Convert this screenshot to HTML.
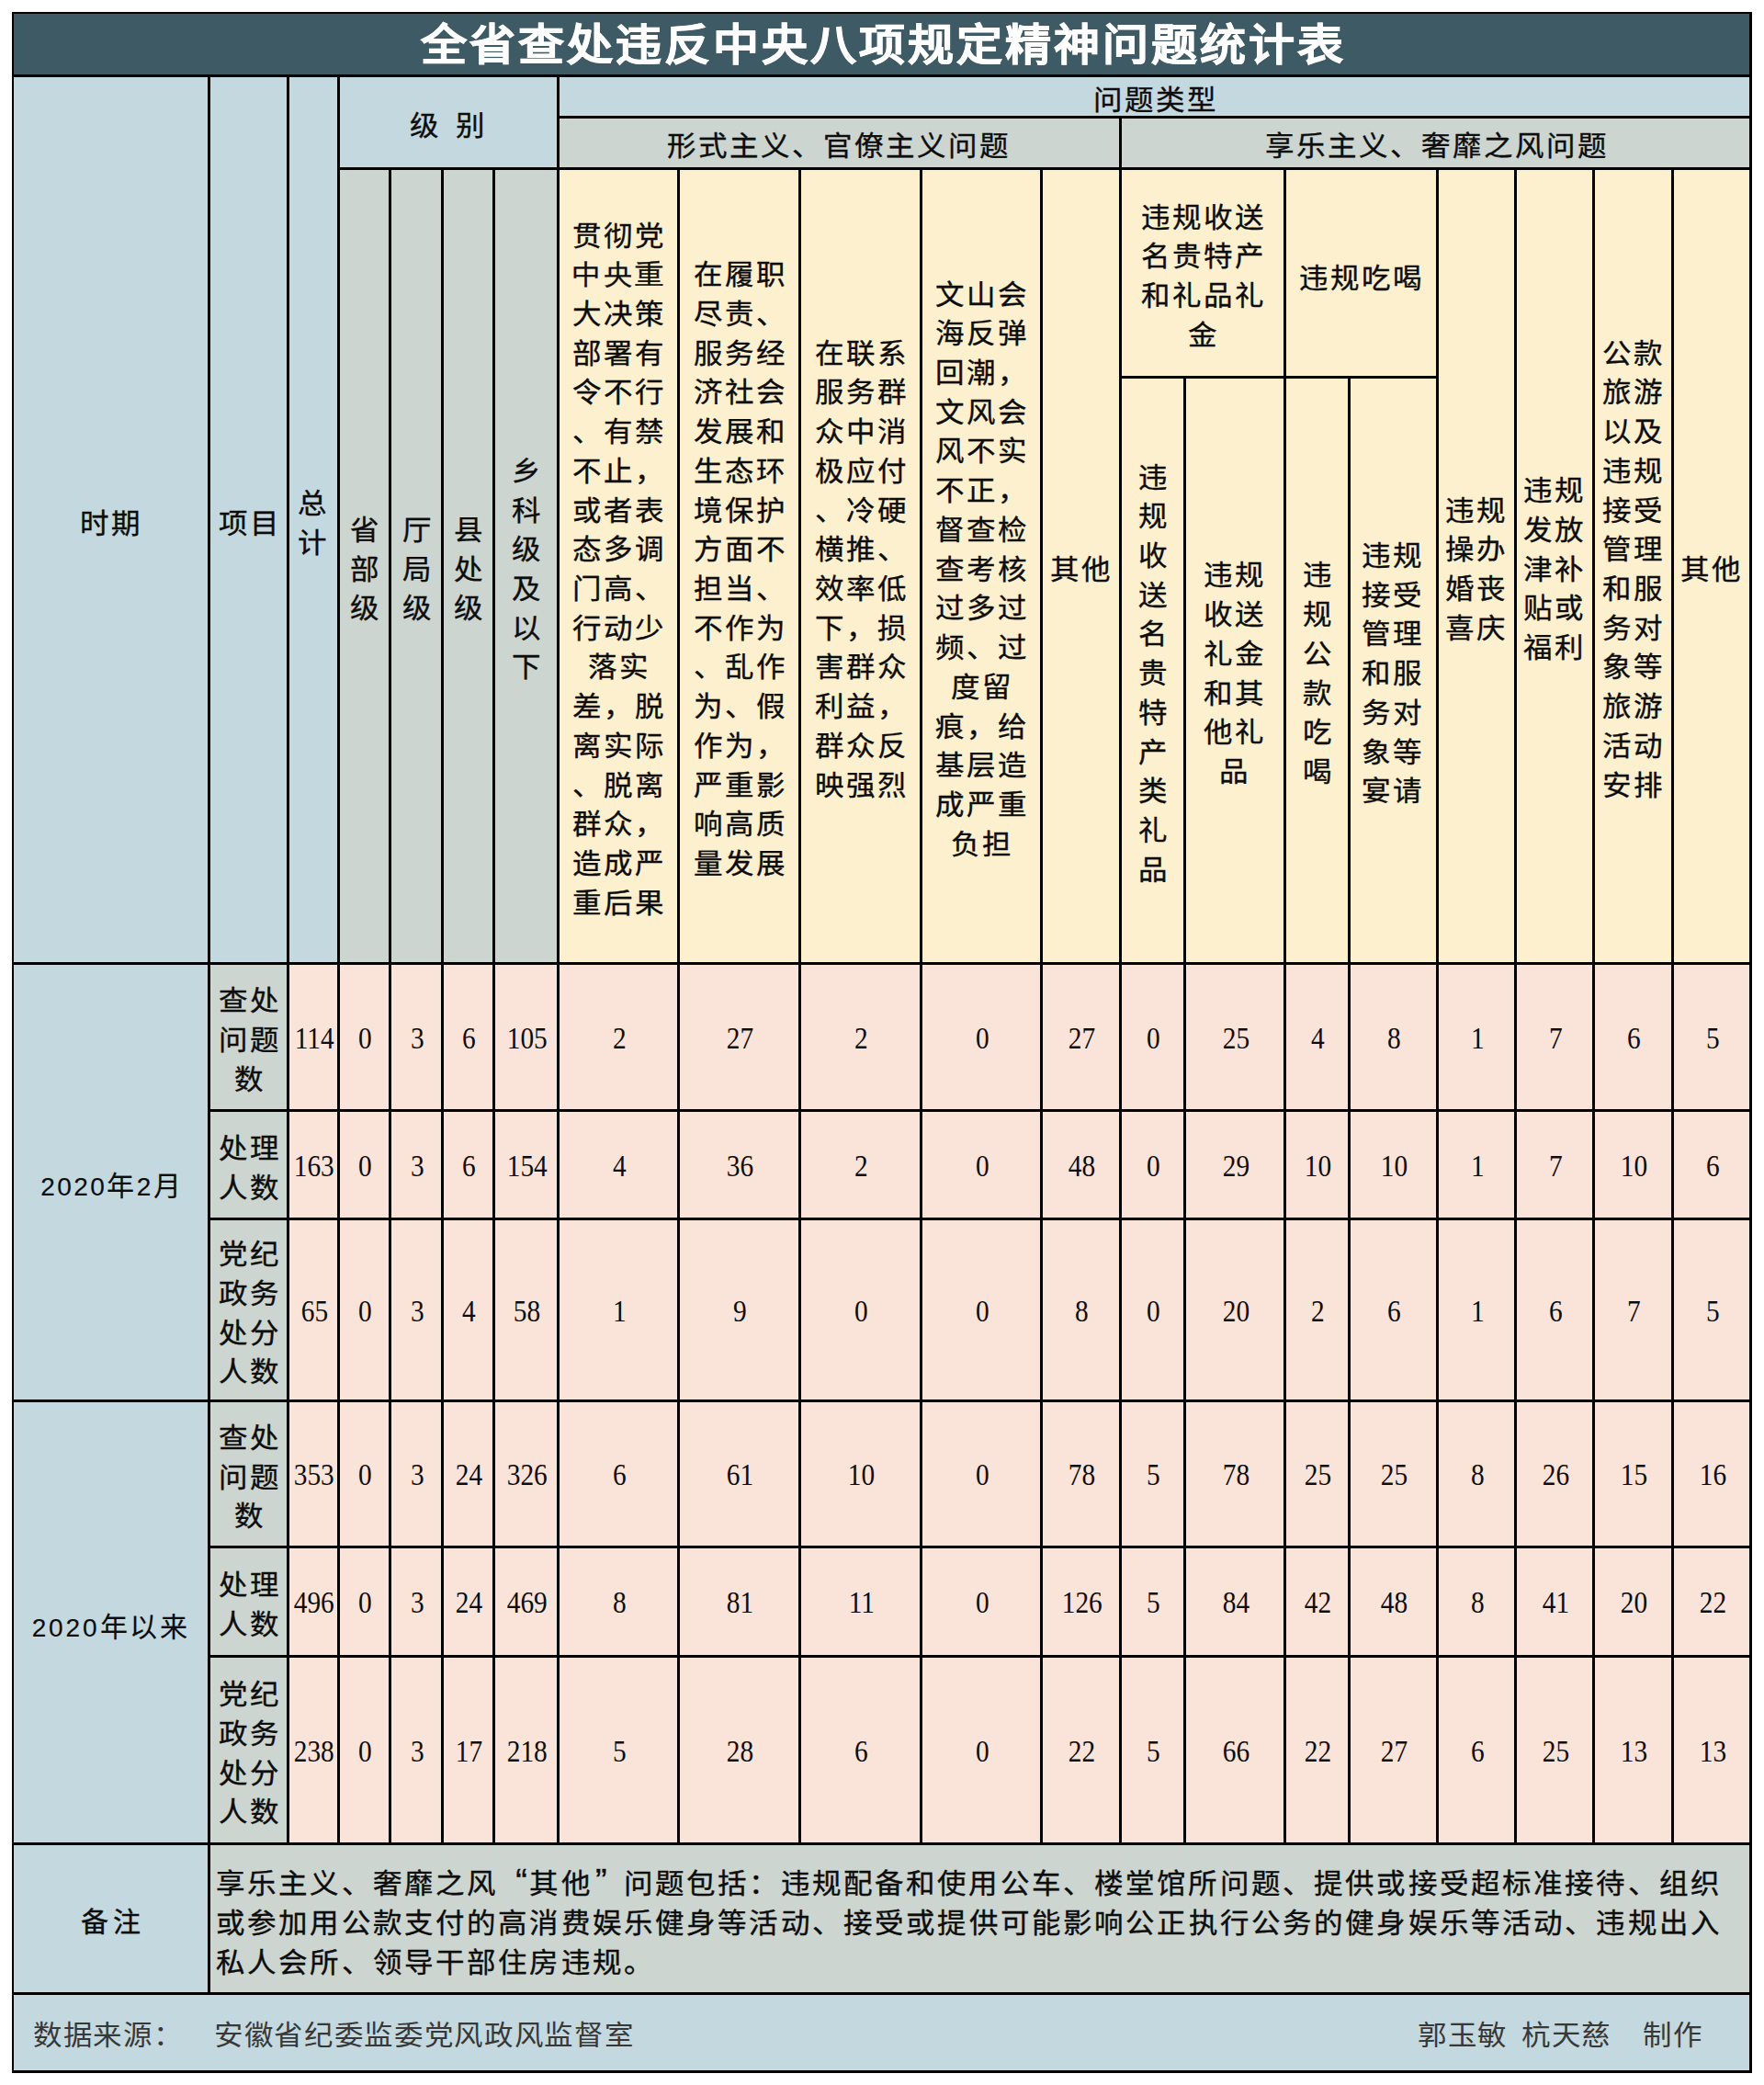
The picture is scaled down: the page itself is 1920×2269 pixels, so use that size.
<!DOCTYPE html>
<html lang="zh-CN"><head><meta charset="utf-8"><title>全省查处违反中央八项规定精神问题统计表</title><script>(function(){try{var c=document.createElement("canvas").getContext("2d");c.font="40px \"Liberation Sans\",sans-serif";if(c.measureText("\u4E2D").width<36){document.documentElement.className+=" nocjk";}}catch(e){}})();</script><style>
html,body{margin:0;padding:0;background:#fff;}
body{width:1920px;height:2269px;position:relative;overflow:hidden;font-family:"Liberation Sans",sans-serif;color:#0d0d0d;}
.r{position:absolute;}
.t,.num,.title,.note,.foot{position:absolute;display:flex;align-items:center;justify-content:center;}
.t>div{font-size:30px;line-height:42.72px;letter-spacing:2.3px;padding-left:2.3px;text-align:center;white-space:nowrap;transform:scaleX(1.05);-webkit-text-stroke:0.35px #0d0d0d;}
.p>div{letter-spacing:2.4px;padding-left:2.4px;transform:none;}
.p2>div{letter-spacing:2.9px;padding-left:2.9px;transform:none;}
.p>div,.p2>div{-webkit-text-stroke:0.15px #0d0d0d;}
.dg{font-size:28px;}
.bz>div{letter-spacing:5px;padding-left:5px;transform:none;}
.gap{display:inline-block;width:15px;}
.num>div{font-family:"Liberation Serif",serif;font-size:33px;line-height:40px;transform:scaleX(0.89);white-space:nowrap;}
.title>div{font-family:"Liberation Sans",sans-serif;font-size:50px;font-weight:700;color:#fff;letter-spacing:3px;padding-left:3px;white-space:nowrap;-webkit-text-stroke-width:0.8px;margin-top:-6px;transform:scaleY(0.93);}
.note{justify-content:flex-start;}
.note>div{font-size:30px;line-height:43px;letter-spacing:2.52px;white-space:nowrap;transform:scaleX(1.05);transform-origin:0 50%;-webkit-text-stroke:0.35px #0d0d0d;}
.ql,.qr{display:inline-block;width:32.5px;font-size:36px;line-height:20px;}
.ql{text-align:right;}
.qr{text-align:left;text-indent:3px;}
.foot{justify-content:flex-start;}
.foot>div{font-size:30px;letter-spacing:1.1px;white-space:nowrap;transform:scaleX(1.05);transform-origin:0 50%;color:#383838;}

.nocjk .t>div{letter-spacing:9.8px;padding-left:9.8px;-webkit-text-stroke:3.5px #0d0d0d;}
.nocjk .p>div,.nocjk .p2>div{letter-spacing:5px;padding-left:5px;-webkit-text-stroke:2px #0d0d0d;}
.nocjk .bz>div{letter-spacing:12.5px;padding-left:12.5px;}
.nocjk .note>div{letter-spacing:10px;-webkit-text-stroke:3.5px #0d0d0d;}
.nocjk .ql,.nocjk .qr{-webkit-text-stroke:0.4px #0d0d0d;}
.nocjk .foot>div{letter-spacing:8.6px;-webkit-text-stroke:3px #2e2e2e;}
.nocjk .title>div{letter-spacing:15.5px;padding-left:15.5px;-webkit-text-stroke-width:7px;}
</style></head><body>
<div class="r" style="left:13px;top:13px;width:1894px;height:71px;background:#3e5a64;"></div>
<div class="r" style="left:13px;top:81px;width:216px;height:969px;background:#c4d8df;"></div>
<div class="r" style="left:226px;top:81px;width:89px;height:969px;background:#c4d8df;"></div>
<div class="r" style="left:312px;top:81px;width:58px;height:969px;background:#c4d8df;"></div>
<div class="r" style="left:367px;top:81px;width:242px;height:104px;background:#c4d8df;"></div>
<div class="r" style="left:367px;top:182px;width:242px;height:868px;background:#ccd5cf;"></div>
<div class="r" style="left:606px;top:81px;width:1301px;height:48px;background:#c4d8df;"></div>
<div class="r" style="left:606px;top:126px;width:1301px;height:59px;background:#ccd5cf;"></div>
<div class="r" style="left:606px;top:182px;width:1301px;height:868px;background:#fdf0cf;"></div>
<div class="r" style="left:13px;top:1047px;width:216px;height:961px;background:#c4d8df;"></div>
<div class="r" style="left:226px;top:1047px;width:89px;height:961px;background:#ccd5cf;"></div>
<div class="r" style="left:312px;top:1047px;width:1595px;height:961px;background:#fae3d8;"></div>
<div class="r" style="left:13px;top:2005px;width:216px;height:166px;background:#c4d8df;"></div>
<div class="r" style="left:226px;top:2005px;width:1681px;height:166px;background:#ccd5cf;"></div>
<div class="r" style="left:13px;top:2168px;width:1894px;height:88px;background:#c4d8df;"></div>
<div class="r" style="left:13px;top:13px;width:1894px;height:2px;background:#000;"></div>
<div class="r" style="left:13px;top:81px;width:1894px;height:3px;background:#000;"></div>
<div class="r" style="left:606px;top:126px;width:1301px;height:3px;background:#000;"></div>
<div class="r" style="left:367px;top:182px;width:1540px;height:3px;background:#000;"></div>
<div class="r" style="left:1218px;top:409px;width:348px;height:3px;background:#000;"></div>
<div class="r" style="left:13px;top:1047px;width:1894px;height:3px;background:#000;"></div>
<div class="r" style="left:226px;top:1207px;width:1681px;height:3px;background:#000;"></div>
<div class="r" style="left:226px;top:1325px;width:1681px;height:3px;background:#000;"></div>
<div class="r" style="left:13px;top:1523px;width:1894px;height:3px;background:#000;"></div>
<div class="r" style="left:226px;top:1682px;width:1681px;height:3px;background:#000;"></div>
<div class="r" style="left:226px;top:1801px;width:1681px;height:3px;background:#000;"></div>
<div class="r" style="left:13px;top:2005px;width:1894px;height:3px;background:#000;"></div>
<div class="r" style="left:13px;top:2168px;width:1894px;height:3px;background:#000;"></div>
<div class="r" style="left:13px;top:2253px;width:1894px;height:3px;background:#000;"></div>
<div class="r" style="left:13px;top:13px;width:2px;height:2243px;background:#000;"></div>
<div class="r" style="left:1904px;top:13px;width:3px;height:2243px;background:#000;"></div>
<div class="r" style="left:226px;top:81px;width:3px;height:1927px;background:#000;"></div>
<div class="r" style="left:312px;top:81px;width:3px;height:1927px;background:#000;"></div>
<div class="r" style="left:367px;top:81px;width:3px;height:1927px;background:#000;"></div>
<div class="r" style="left:606px;top:81px;width:3px;height:1927px;background:#000;"></div>
<div class="r" style="left:226px;top:2005px;width:3px;height:166px;background:#000;"></div>
<div class="r" style="left:423px;top:182px;width:3px;height:1826px;background:#000;"></div>
<div class="r" style="left:480px;top:182px;width:3px;height:1826px;background:#000;"></div>
<div class="r" style="left:536px;top:182px;width:3px;height:1826px;background:#000;"></div>
<div class="r" style="left:737px;top:182px;width:3px;height:1826px;background:#000;"></div>
<div class="r" style="left:869px;top:182px;width:3px;height:1826px;background:#000;"></div>
<div class="r" style="left:1001px;top:182px;width:3px;height:1826px;background:#000;"></div>
<div class="r" style="left:1132px;top:182px;width:3px;height:1826px;background:#000;"></div>
<div class="r" style="left:1397px;top:182px;width:3px;height:1826px;background:#000;"></div>
<div class="r" style="left:1563px;top:182px;width:3px;height:1826px;background:#000;"></div>
<div class="r" style="left:1648px;top:182px;width:3px;height:1826px;background:#000;"></div>
<div class="r" style="left:1733px;top:182px;width:3px;height:1826px;background:#000;"></div>
<div class="r" style="left:1819px;top:182px;width:3px;height:1826px;background:#000;"></div>
<div class="r" style="left:1218px;top:126px;width:3px;height:1882px;background:#000;"></div>
<div class="r" style="left:1288px;top:409px;width:3px;height:1599px;background:#000;"></div>
<div class="r" style="left:1467px;top:409px;width:3px;height:1599px;background:#000;"></div>
<div class="title" style="left:15px;top:15px;width:1889px;height:66px;"><div>全省查处违反中央八项规定精神问题统计表</div></div>
<div class="t" style="left:14px;top:89px;width:211px;height:963px;"><div>时期</div></div>
<div class="t" style="left:229px;top:89px;width:83px;height:963px;"><div>项目</div></div>
<div class="t" style="left:313px;top:88px;width:52px;height:963px;"><div>总<br>计</div></div>
<div class="t" style="left:369px;top:88px;width:236px;height:98px;"><div>级<span class="gap"></span>别</div></div>
<div class="t" style="left:370px;top:189px;width:53px;height:862px;"><div>省<br>部<br>级</div></div>
<div class="t" style="left:426px;top:189px;width:54px;height:862px;"><div>厅<br>局<br>级</div></div>
<div class="t" style="left:483px;top:189px;width:53px;height:862px;"><div>县<br>处<br>级</div></div>
<div class="t" style="left:539px;top:189px;width:67px;height:862px;"><div>乡<br>科<br>级<br>及<br>以<br>下</div></div>
<div class="t" style="left:609px;top:88px;width:1295px;height:42px;"><div>问题类型</div></div>
<div class="t" style="left:607px;top:133px;width:609px;height:53px;"><div>形式主义、官僚主义问题</div></div>
<div class="t" style="left:1221px;top:133px;width:683px;height:53px;"><div>享乐主义、奢靡之风问题</div></div>
<div class="t" style="left:609px;top:189px;width:128px;height:862px;"><div>贯彻党<br>中央重<br>大决策<br>部署有<br>令不行<br>、有禁<br>不止，<br>或者表<br>态多调<br>门高、<br>行动少<br>落实<br>差，脱<br>离实际<br>、脱离<br>群众，<br>造成严<br>重后果</div></div>
<div class="t" style="left:740px;top:189px;width:129px;height:862px;"><div>在履职<br>尽责、<br>服务经<br>济社会<br>发展和<br>生态环<br>境保护<br>方面不<br>担当、<br>不作为<br>、乱作<br>为、假<br>作为，<br>严重影<br>响高质<br>量发展</div></div>
<div class="t" style="left:872px;top:189px;width:129px;height:862px;"><div>在联系<br>服务群<br>众中消<br>极应付<br>、冷硬<br>横推、<br>效率低<br>下，损<br>害群众<br>利益，<br>群众反<br>映强烈</div></div>
<div class="t" style="left:1004px;top:189px;width:128px;height:862px;"><div>文山会<br>海反弹<br>回潮，<br>文风会<br>风不实<br>不正，<br>督查检<br>查考核<br>过多过<br>频、过<br>度留<br>痕，给<br>基层造<br>成严重<br>负担</div></div>
<div class="t" style="left:1134px;top:189px;width:83px;height:862px;"><div>其他</div></div>
<div class="t" style="left:1221px;top:189px;width:176px;height:224px;"><div>违规收送<br>名贵特产<br>和礼品礼<br>金</div></div>
<div class="t" style="left:1399px;top:191px;width:163px;height:224px;"><div>违规吃喝</div></div>
<div class="t" style="left:1221px;top:416px;width:67px;height:635px;"><div>违<br>规<br>收<br>送<br>名<br>贵<br>特<br>产<br>类<br>礼<br>品</div></div>
<div class="t" style="left:1289px;top:416px;width:106px;height:635px;"><div>违规<br>收送<br>礼金<br>和其<br>他礼<br>品</div></div>
<div class="t" style="left:1400px;top:416px;width:67px;height:635px;"><div>违<br>规<br>公<br>款<br>吃<br>喝</div></div>
<div class="t" style="left:1468px;top:416px;width:93px;height:635px;"><div>违规<br>接受<br>管理<br>和服<br>务对<br>象等<br>宴请</div></div>
<div class="t" style="left:1564px;top:189px;width:82px;height:862px;"><div>违规<br>操办<br>婚丧<br>喜庆</div></div>
<div class="t" style="left:1649px;top:189px;width:82px;height:862px;"><div>违规<br>发放<br>津补<br>贴或<br>福利</div></div>
<div class="t" style="left:1735px;top:189px;width:83px;height:862px;"><div>公款<br>旅游<br>以及<br>违规<br>接受<br>管理<br>和服<br>务对<br>象等<br>旅游<br>活动<br>安排</div></div>
<div class="t" style="left:1820px;top:189px;width:82px;height:862px;"><div>其他</div></div>
<div class="t p" style="left:15px;top:1055px;width:211px;height:473px;"><div><span class="dg">2020</span>年<span class="dg">2</span>月</div></div>
<div class="t p2" style="left:14px;top:1532px;width:211px;height:479px;"><div><span class="dg">2020</span>年以来</div></div>
<div class="t" style="left:229px;top:1054px;width:83px;height:157px;"><div>查处<br>问题<br>数</div></div>
<div class="num" style="left:316px;top:1051px;width:52px;height:157px;"><div>114</div></div>
<div class="num" style="left:371px;top:1051px;width:53px;height:157px;"><div>0</div></div>
<div class="num" style="left:427px;top:1051px;width:54px;height:157px;"><div>3</div></div>
<div class="num" style="left:484px;top:1051px;width:53px;height:157px;"><div>6</div></div>
<div class="num" style="left:540px;top:1051px;width:67px;height:157px;"><div>105</div></div>
<div class="num" style="left:610px;top:1051px;width:128px;height:157px;"><div>2</div></div>
<div class="num" style="left:741px;top:1051px;width:129px;height:157px;"><div>27</div></div>
<div class="num" style="left:873px;top:1051px;width:129px;height:157px;"><div>2</div></div>
<div class="num" style="left:1005px;top:1051px;width:128px;height:157px;"><div>0</div></div>
<div class="num" style="left:1136px;top:1051px;width:83px;height:157px;"><div>27</div></div>
<div class="num" style="left:1222px;top:1051px;width:67px;height:157px;"><div>0</div></div>
<div class="num" style="left:1292px;top:1051px;width:106px;height:157px;"><div>25</div></div>
<div class="num" style="left:1401px;top:1051px;width:67px;height:157px;"><div>4</div></div>
<div class="num" style="left:1471px;top:1051px;width:93px;height:157px;"><div>8</div></div>
<div class="num" style="left:1567px;top:1051px;width:82px;height:157px;"><div>1</div></div>
<div class="num" style="left:1652px;top:1051px;width:82px;height:157px;"><div>7</div></div>
<div class="num" style="left:1737px;top:1051px;width:83px;height:157px;"><div>6</div></div>
<div class="num" style="left:1823px;top:1051px;width:82px;height:157px;"><div>5</div></div>
<div class="t" style="left:229px;top:1214px;width:83px;height:115px;"><div>处理<br>人数</div></div>
<div class="num" style="left:316px;top:1211px;width:52px;height:115px;"><div>163</div></div>
<div class="num" style="left:371px;top:1211px;width:53px;height:115px;"><div>0</div></div>
<div class="num" style="left:427px;top:1211px;width:54px;height:115px;"><div>3</div></div>
<div class="num" style="left:484px;top:1211px;width:53px;height:115px;"><div>6</div></div>
<div class="num" style="left:540px;top:1211px;width:67px;height:115px;"><div>154</div></div>
<div class="num" style="left:610px;top:1211px;width:128px;height:115px;"><div>4</div></div>
<div class="num" style="left:741px;top:1211px;width:129px;height:115px;"><div>36</div></div>
<div class="num" style="left:873px;top:1211px;width:129px;height:115px;"><div>2</div></div>
<div class="num" style="left:1005px;top:1211px;width:128px;height:115px;"><div>0</div></div>
<div class="num" style="left:1136px;top:1211px;width:83px;height:115px;"><div>48</div></div>
<div class="num" style="left:1222px;top:1211px;width:67px;height:115px;"><div>0</div></div>
<div class="num" style="left:1292px;top:1211px;width:106px;height:115px;"><div>29</div></div>
<div class="num" style="left:1401px;top:1211px;width:67px;height:115px;"><div>10</div></div>
<div class="num" style="left:1471px;top:1211px;width:93px;height:115px;"><div>10</div></div>
<div class="num" style="left:1567px;top:1211px;width:82px;height:115px;"><div>1</div></div>
<div class="num" style="left:1652px;top:1211px;width:82px;height:115px;"><div>7</div></div>
<div class="num" style="left:1737px;top:1211px;width:83px;height:115px;"><div>10</div></div>
<div class="num" style="left:1823px;top:1211px;width:82px;height:115px;"><div>6</div></div>
<div class="t" style="left:229px;top:1332px;width:83px;height:195px;"><div>党纪<br>政务<br>处分<br>人数</div></div>
<div class="num" style="left:316px;top:1329px;width:52px;height:195px;"><div>65</div></div>
<div class="num" style="left:371px;top:1329px;width:53px;height:195px;"><div>0</div></div>
<div class="num" style="left:427px;top:1329px;width:54px;height:195px;"><div>3</div></div>
<div class="num" style="left:484px;top:1329px;width:53px;height:195px;"><div>4</div></div>
<div class="num" style="left:540px;top:1329px;width:67px;height:195px;"><div>58</div></div>
<div class="num" style="left:610px;top:1329px;width:128px;height:195px;"><div>1</div></div>
<div class="num" style="left:741px;top:1329px;width:129px;height:195px;"><div>9</div></div>
<div class="num" style="left:873px;top:1329px;width:129px;height:195px;"><div>0</div></div>
<div class="num" style="left:1005px;top:1329px;width:128px;height:195px;"><div>0</div></div>
<div class="num" style="left:1136px;top:1329px;width:83px;height:195px;"><div>8</div></div>
<div class="num" style="left:1222px;top:1329px;width:67px;height:195px;"><div>0</div></div>
<div class="num" style="left:1292px;top:1329px;width:106px;height:195px;"><div>20</div></div>
<div class="num" style="left:1401px;top:1329px;width:67px;height:195px;"><div>2</div></div>
<div class="num" style="left:1471px;top:1329px;width:93px;height:195px;"><div>6</div></div>
<div class="num" style="left:1567px;top:1329px;width:82px;height:195px;"><div>1</div></div>
<div class="num" style="left:1652px;top:1329px;width:82px;height:195px;"><div>6</div></div>
<div class="num" style="left:1737px;top:1329px;width:83px;height:195px;"><div>7</div></div>
<div class="num" style="left:1823px;top:1329px;width:82px;height:195px;"><div>5</div></div>
<div class="t" style="left:229px;top:1530px;width:83px;height:156px;"><div>查处<br>问题<br>数</div></div>
<div class="num" style="left:316px;top:1527px;width:52px;height:156px;"><div>353</div></div>
<div class="num" style="left:371px;top:1527px;width:53px;height:156px;"><div>0</div></div>
<div class="num" style="left:427px;top:1527px;width:54px;height:156px;"><div>3</div></div>
<div class="num" style="left:484px;top:1527px;width:53px;height:156px;"><div>24</div></div>
<div class="num" style="left:540px;top:1527px;width:67px;height:156px;"><div>326</div></div>
<div class="num" style="left:610px;top:1527px;width:128px;height:156px;"><div>6</div></div>
<div class="num" style="left:741px;top:1527px;width:129px;height:156px;"><div>61</div></div>
<div class="num" style="left:873px;top:1527px;width:129px;height:156px;"><div>10</div></div>
<div class="num" style="left:1005px;top:1527px;width:128px;height:156px;"><div>0</div></div>
<div class="num" style="left:1136px;top:1527px;width:83px;height:156px;"><div>78</div></div>
<div class="num" style="left:1222px;top:1527px;width:67px;height:156px;"><div>5</div></div>
<div class="num" style="left:1292px;top:1527px;width:106px;height:156px;"><div>78</div></div>
<div class="num" style="left:1401px;top:1527px;width:67px;height:156px;"><div>25</div></div>
<div class="num" style="left:1471px;top:1527px;width:93px;height:156px;"><div>25</div></div>
<div class="num" style="left:1567px;top:1527px;width:82px;height:156px;"><div>8</div></div>
<div class="num" style="left:1652px;top:1527px;width:82px;height:156px;"><div>26</div></div>
<div class="num" style="left:1737px;top:1527px;width:83px;height:156px;"><div>15</div></div>
<div class="num" style="left:1823px;top:1527px;width:82px;height:156px;"><div>16</div></div>
<div class="t" style="left:229px;top:1689px;width:83px;height:116px;"><div>处理<br>人数</div></div>
<div class="num" style="left:316px;top:1686px;width:52px;height:116px;"><div>496</div></div>
<div class="num" style="left:371px;top:1686px;width:53px;height:116px;"><div>0</div></div>
<div class="num" style="left:427px;top:1686px;width:54px;height:116px;"><div>3</div></div>
<div class="num" style="left:484px;top:1686px;width:53px;height:116px;"><div>24</div></div>
<div class="num" style="left:540px;top:1686px;width:67px;height:116px;"><div>469</div></div>
<div class="num" style="left:610px;top:1686px;width:128px;height:116px;"><div>8</div></div>
<div class="num" style="left:741px;top:1686px;width:129px;height:116px;"><div>81</div></div>
<div class="num" style="left:873px;top:1686px;width:129px;height:116px;"><div>11</div></div>
<div class="num" style="left:1005px;top:1686px;width:128px;height:116px;"><div>0</div></div>
<div class="num" style="left:1136px;top:1686px;width:83px;height:116px;"><div>126</div></div>
<div class="num" style="left:1222px;top:1686px;width:67px;height:116px;"><div>5</div></div>
<div class="num" style="left:1292px;top:1686px;width:106px;height:116px;"><div>84</div></div>
<div class="num" style="left:1401px;top:1686px;width:67px;height:116px;"><div>42</div></div>
<div class="num" style="left:1471px;top:1686px;width:93px;height:116px;"><div>48</div></div>
<div class="num" style="left:1567px;top:1686px;width:82px;height:116px;"><div>8</div></div>
<div class="num" style="left:1652px;top:1686px;width:82px;height:116px;"><div>41</div></div>
<div class="num" style="left:1737px;top:1686px;width:83px;height:116px;"><div>20</div></div>
<div class="num" style="left:1823px;top:1686px;width:82px;height:116px;"><div>22</div></div>
<div class="t" style="left:229px;top:1808px;width:83px;height:201px;"><div>党纪<br>政务<br>处分<br>人数</div></div>
<div class="num" style="left:316px;top:1805px;width:52px;height:201px;"><div>238</div></div>
<div class="num" style="left:371px;top:1805px;width:53px;height:201px;"><div>0</div></div>
<div class="num" style="left:427px;top:1805px;width:54px;height:201px;"><div>3</div></div>
<div class="num" style="left:484px;top:1805px;width:53px;height:201px;"><div>17</div></div>
<div class="num" style="left:540px;top:1805px;width:67px;height:201px;"><div>218</div></div>
<div class="num" style="left:610px;top:1805px;width:128px;height:201px;"><div>5</div></div>
<div class="num" style="left:741px;top:1805px;width:129px;height:201px;"><div>28</div></div>
<div class="num" style="left:873px;top:1805px;width:129px;height:201px;"><div>6</div></div>
<div class="num" style="left:1005px;top:1805px;width:128px;height:201px;"><div>0</div></div>
<div class="num" style="left:1136px;top:1805px;width:83px;height:201px;"><div>22</div></div>
<div class="num" style="left:1222px;top:1805px;width:67px;height:201px;"><div>5</div></div>
<div class="num" style="left:1292px;top:1805px;width:106px;height:201px;"><div>66</div></div>
<div class="num" style="left:1401px;top:1805px;width:67px;height:201px;"><div>22</div></div>
<div class="num" style="left:1471px;top:1805px;width:93px;height:201px;"><div>27</div></div>
<div class="num" style="left:1567px;top:1805px;width:82px;height:201px;"><div>6</div></div>
<div class="num" style="left:1652px;top:1805px;width:82px;height:201px;"><div>25</div></div>
<div class="num" style="left:1737px;top:1805px;width:83px;height:201px;"><div>13</div></div>
<div class="num" style="left:1823px;top:1805px;width:82px;height:201px;"><div>13</div></div>
<div class="t bz" style="left:15px;top:2012px;width:211px;height:160px;"><div>备注</div></div>
<div class="note" style="left:235px;top:2012px;width:1660px;height:160px;"><div>享乐主义、奢靡之风<span class="ql">“</span>其他<span class="qr">”</span>问题包括：违规配备和使用公车、楼堂馆所问题、提供或接受超标准接待、组织<br>或参加用公款支付的高消费娱乐健身等活动、接受或提供可能影响公正执行公务的健身娱乐等活动、违规出入<br>私人会所、领导干部住房违规。</div></div>
<div class="foot" style="left:35.5px;top:2173px;height:77px;"><div>数据来源：</div></div>
<div class="foot" style="left:232.5px;top:2173px;height:77px;"><div>安徽省纪委监委党风政风监督室</div></div>
<div class="foot" style="left:1542.5px;top:2173px;height:77px;"><div>郭玉敏</div></div>
<div class="foot" style="left:1656px;top:2173px;height:77px;"><div>杭天慈</div></div>
<div class="foot" style="left:1788px;top:2173px;height:77px;"><div>制作</div></div>
</body></html>
